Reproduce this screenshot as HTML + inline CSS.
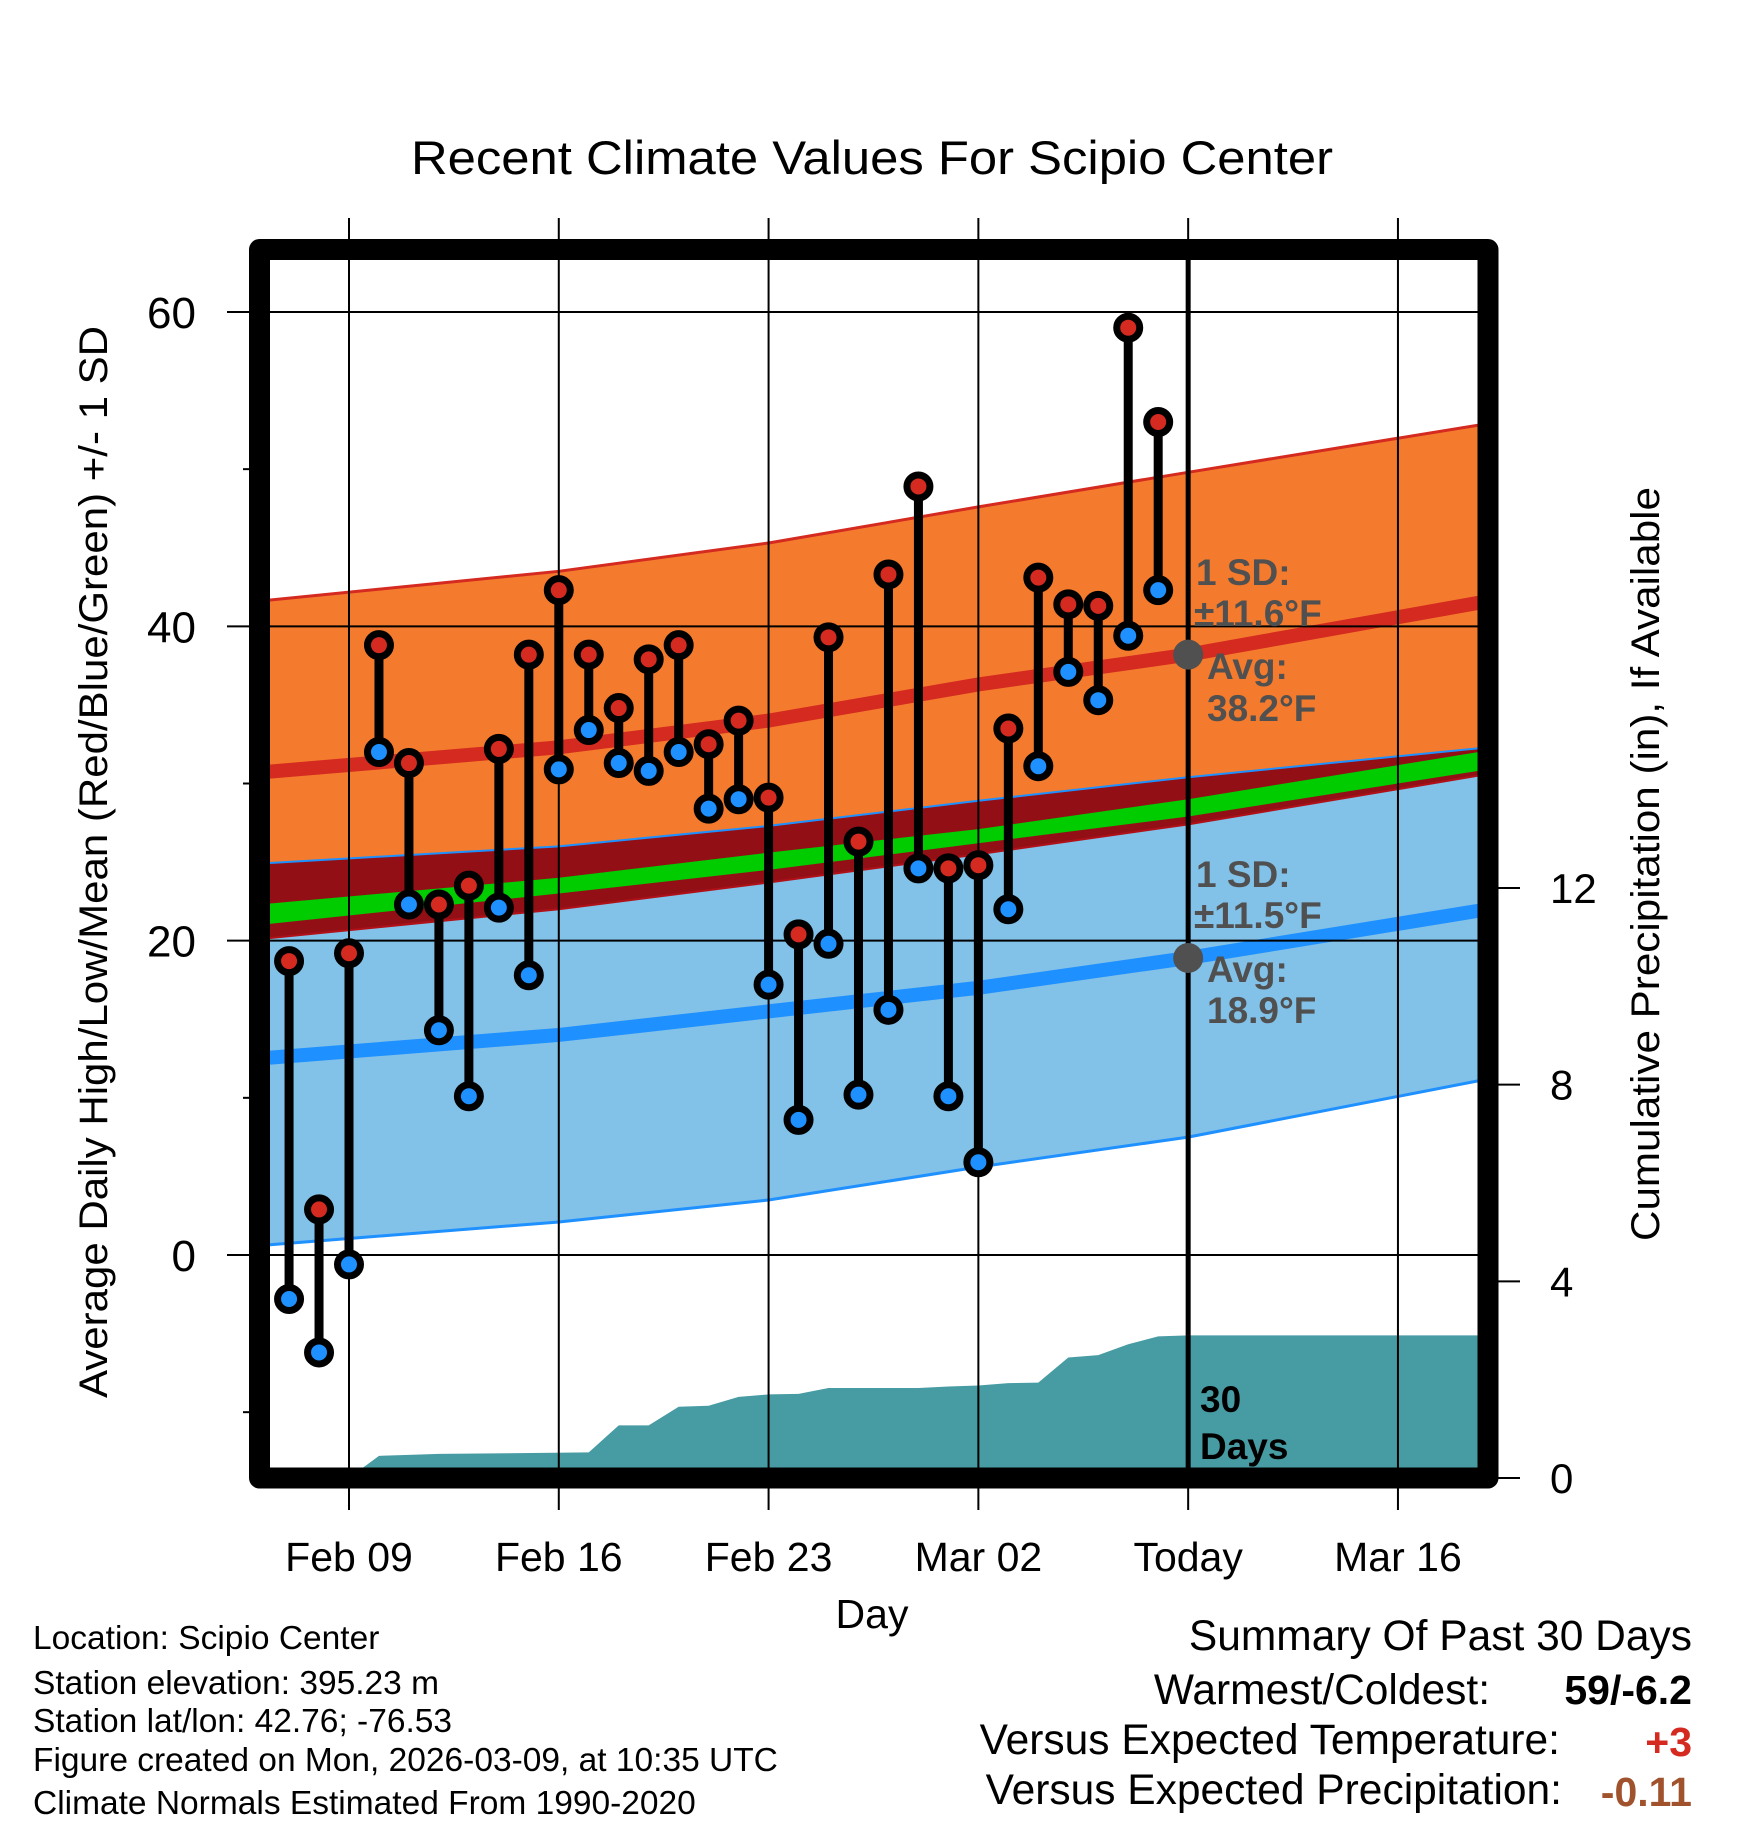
<!DOCTYPE html>
<html><head><meta charset="utf-8"><style>
html,body{margin:0;padding:0;background:#fff;}
svg{display:block;font-family:"Liberation Sans",sans-serif;}
</style></head><body>
<svg id="chart" width="1748" height="1828" viewBox="0 0 1748 1828">
<defs><clipPath id="plotclip"><rect x="259" y="249" width="1229" height="1229"/></clipPath></defs>
<g id="bg" clip-path="url(#plotclip)"></g>
<g id="grid"></g>
<g id="marks" clip-path="url(#plotclip)"></g>
<g id="frame"></g>
<g id="texts"></g>
</svg>
<script>
const days = [-2,-1,0,1,2,3,4,5,6,7,8,9,10,11,12,13,14,15,16,17,18,19,20,21,22,23,24,25,26,27];
const highs = [18.7,2.9,19.2,38.8,31.3,22.3,23.5,32.2,38.2,42.3,38.2,34.8,37.9,38.8,32.5,34.0,29.1,20.4,39.3,26.3,43.3,48.9,24.6,24.8,33.5,43.1,41.4,41.3,59.0,53.0];
const lows = [-2.8,-6.2,-0.6,32.0,22.3,14.3,10.1,22.1,17.8,30.9,33.4,31.3,30.8,32.0,28.4,29.0,17.2,8.6,19.8,10.2,15.6,24.6,10.1,5.9,22.0,31.1,37.1,35.3,39.4,42.3];
const normDays = [-3,7,14,21,28,38];
const highUpper = [41.6,43.5,45.3,47.6,49.8,52.9];
const highMean = [30.7,32.3,34.0,36.3,38.2,41.6];
const orangeBottom = [24.9,26.0,27.3,28.9,30.4,32.3];
const greenTop = [22.3,24.0,25.6,27.1,29.0,32.1];
const greenBottom = [21.0,23.0,24.5,26.2,27.9,30.9];
const darkRedBottom = [20.1,22.0,23.7,25.5,27.4,30.6];
const lowMean = [12.5,14.0,15.5,17.0,18.9,22.0];
const lowLower = [0.6,2.1,3.5,5.6,7.5,11.2];
const precipDays = [-3,0,1,2,3,8,9,10,11,12,13,14,15,16,19,20,21,22,23,24,25,26,27,28,38];
const precipVals = [0,0,0.45,0.47,0.49,0.52,1.07,1.07,1.45,1.47,1.65,1.70,1.71,1.83,1.83,1.86,1.88,1.93,1.94,2.45,2.50,2.72,2.88,2.90,2.90];
const yTicks = [0,20,40,60];
const yMinor = [-10,10,30,50];
const pTicks = [0,4,8,12];
const xTickDays = [0,7,14,21,28,35];
const xTickLabels = ["Feb 09","Feb 16","Feb 23","Mar 02","Today","Mar 16"];
const todayDay = 28;

const NS="http://www.w3.org/2000/svg";
const X = d => 349 + d*29.97;
const Y = v => 1255 - v*15.717;
const P = p => 1478 - p*49.17;
function mk(tag, attrs, parent){const e=document.createElementNS(NS,tag);for(const k in attrs)e.setAttribute(k,attrs[k]);parent.appendChild(e);return e;}
const bg=document.getElementById('bg'), grid=document.getElementById('grid'), marks=document.getElementById('marks'), frame=document.getElementById('frame'), texts=document.getElementById('texts');
function pts(arr){return normDays.map((d,i)=>X(d)+','+Y(arr[i]));}
function band(top,bot,fill,name){
  const p=pts(top).concat(pts(bot).reverse());
  const e=mk('polygon',{points:p.join(' '),fill:fill},bg);
  
  
}
band(highUpper,orangeBottom,'#f47b2d','high-sd-band');
band(orangeBottom,darkRedBottom,'#921015','overlap-band');
band(greenTop,greenBottom,'#00cc00','mean-band');
band(darkRedBottom,lowLower,'#82c1e8','low-sd-band');
function line(arr,color,w,name){
  const e=mk('polyline',{points:pts(arr).join(' '),fill:'none',stroke:color,'stroke-width':w},bg);
  
  
}
line(highUpper,'#d42a20',3,'high-upper-line');
line(orangeBottom,'#1e90ff',2,'low-upper-line');
line(darkRedBottom,'#b01018',2,'high-lower-line');
line(lowLower,'#1e90ff',3,'low-lower-line');
line(highMean,'#d42a20',14,'high-mean-line');
line(lowMean,'#1e90ff',14,'low-mean-line');
{
  const p=precipDays.map((d,i)=>X(d)+','+P(precipVals[i]));
  p.push(X(38)+','+P(0)); p.push(X(-3)+','+P(0));
  const e=mk('polygon',{points:p.join(' '),fill:'#479ba3'},bg);
  
  
}
yTicks.forEach(v=>{const e=mk('line',{x1:227,x2:1488,y1:Y(v),y2:Y(v),stroke:'#000','stroke-width':2},grid);
  
  
  const t=mk('text',{x:196,y:Y(v)+16,'text-anchor':'end','font-size':44},texts);t.textContent=v;
  
  
});
yMinor.forEach(v=>{const e=mk('line',{x1:243,x2:259,y1:Y(v),y2:Y(v),stroke:'#000','stroke-width':2},grid);
  
  
});
pTicks.forEach(v=>{const e=mk('line',{x1:1488,x2:1520,y1:P(v),y2:P(v),stroke:'#000','stroke-width':2},grid);
  
  
  const t=mk('text',{x:1550,y:P(v)+15,'font-size':42},texts);t.textContent=v;
  
  
});
xTickDays.forEach((d,i)=>{const e=mk('line',{x1:X(d),x2:X(d),y1:218,y2:1510,stroke:'#000','stroke-width':2},grid);
  
  
  const t=mk('text',{x:X(d),y:1571,'text-anchor':'middle','font-size':41},texts);t.textContent=xTickLabels[i];
  
  
});
{const e=mk('line',{x1:X(todayDay),x2:X(todayDay),y1:259,y2:1478,stroke:'#000','stroke-width':5},marks);
 
 }
days.forEach((d,i)=>{
  const s=mk('line',{x1:X(d),x2:X(d),y1:Y(highs[i]),y2:Y(lows[i]),stroke:'#000','stroke-width':9},marks);
  
  
});
days.forEach((d,i)=>{
  const h=mk('circle',{cx:X(d),cy:Y(highs[i]),r:11.5,fill:'#d42a20',stroke:'#000','stroke-width':7},marks);
  
  
  const l=mk('circle',{cx:X(d),cy:Y(lows[i]),r:11.5,fill:'#1e90ff',stroke:'#000','stroke-width':7},marks);
  
  
});
[[highMean,'high-mean-today-dot'],[lowMean,'low-mean-today-dot']].forEach(([a,n])=>{
  const c=mk('circle',{cx:X(todayDay),cy:Y(a[4]),r:15,fill:'#505050'},marks);
  
  
});
{const f=mk('rect',{x:259.5,y:249.5,width:1228.5,height:1228.5,fill:'none',stroke:'#000','stroke-width':21,'stroke-linejoin':'round'},frame);
 
 }
</script>
<script>
const T=document.getElementById('texts');
function txt(s,attrs,name){const e=document.createElementNS("http://www.w3.org/2000/svg",'text');for(const k in attrs)e.setAttribute(k,attrs[k]);e.textContent=s;T.appendChild(e);
  
  return e;}
txt('Recent Climate Values For Scipio Center',{x:872,y:174,'text-anchor':'middle','font-size':47,textLength:922,lengthAdjust:'spacingAndGlyphs'},'chart-title');
txt('Day',{x:872,y:1628,'text-anchor':'middle','font-size':41},'x-axis-title');
txt('Average Daily High/Low/Mean (Red/Blue/Green) +/- 1 SD',{x:0,y:0,'text-anchor':'middle','font-size':40,transform:'translate(107,862) rotate(-90)',textLength:1072,lengthAdjust:'spacingAndGlyphs'},'y-axis-title');
txt('Cumulative Precipitation (in), If Available',{x:0,y:0,'text-anchor':'middle','font-size':40,transform:'translate(1659,864) rotate(-90)',textLength:754,lengthAdjust:'spacingAndGlyphs'},'right-axis-title');
const g={fill:'#505050','font-weight':'bold','font-size':37};
txt('1 SD:',Object.assign({x:1196,y:585},g),'high-sd-label');
txt('±11.6°F',Object.assign({x:1194,y:626},g),'high-sd-value');
txt('Avg:',Object.assign({x:1207,y:679},g),'high-avg-label');
txt('38.2°F',Object.assign({x:1207,y:721},g),'high-avg-value');
txt('1 SD:',Object.assign({x:1196,y:887},g),'low-sd-label');
txt('±11.5°F',Object.assign({x:1194,y:928},g),'low-sd-value');
txt('Avg:',Object.assign({x:1207,y:982},g),'low-avg-label');
txt('18.9°F',Object.assign({x:1207,y:1023},g),'low-avg-value');
txt('30',{x:1200,y:1412,'font-size':37,'font-weight':'bold'},'days-count');
txt('Days',{x:1200,y:1459,'font-size':37,'font-weight':'bold'},'days-label');
const L=[['Location: Scipio Center',1649],['Station elevation: 395.23 m',1694],['Station lat/lon: 42.76; -76.53',1732],['Figure created on Mon, 2026-03-09, at 10:35 UTC',1771],['Climate Normals Estimated From 1990-2020',1814]];
L.forEach(([s,y])=>txt(s,{x:33,y:y,'font-size':33.5},'station-info-line'));
txt('Summary Of Past 30 Days',{x:1692,y:1650,'text-anchor':'end','font-size':42.5},'summary-title');
txt('Warmest/Coldest:',{x:1490,y:1704,'text-anchor':'end','font-size':42.5},'warmest-coldest-label');
txt('59/-6.2',{x:1692,y:1704,'text-anchor':'end','font-size':41,'font-weight':'bold'},'warmest-coldest-value');
txt('Versus Expected Temperature:',{x:1560,y:1754,'text-anchor':'end','font-size':42.5},'temp-anomaly-label');
txt('+3',{x:1692,y:1756,'text-anchor':'end','font-size':41,'font-weight':'bold',fill:'#d42a20'},'temp-anomaly-value');
txt('Versus Expected Precipitation:',{x:1562,y:1804,'text-anchor':'end','font-size':42.5},'precip-anomaly-label');
txt('-0.11',{x:1692,y:1806,'text-anchor':'end','font-size':41,'font-weight':'bold',fill:'#a0522d'},'precip-anomaly-value');
</script>
</body></html>
